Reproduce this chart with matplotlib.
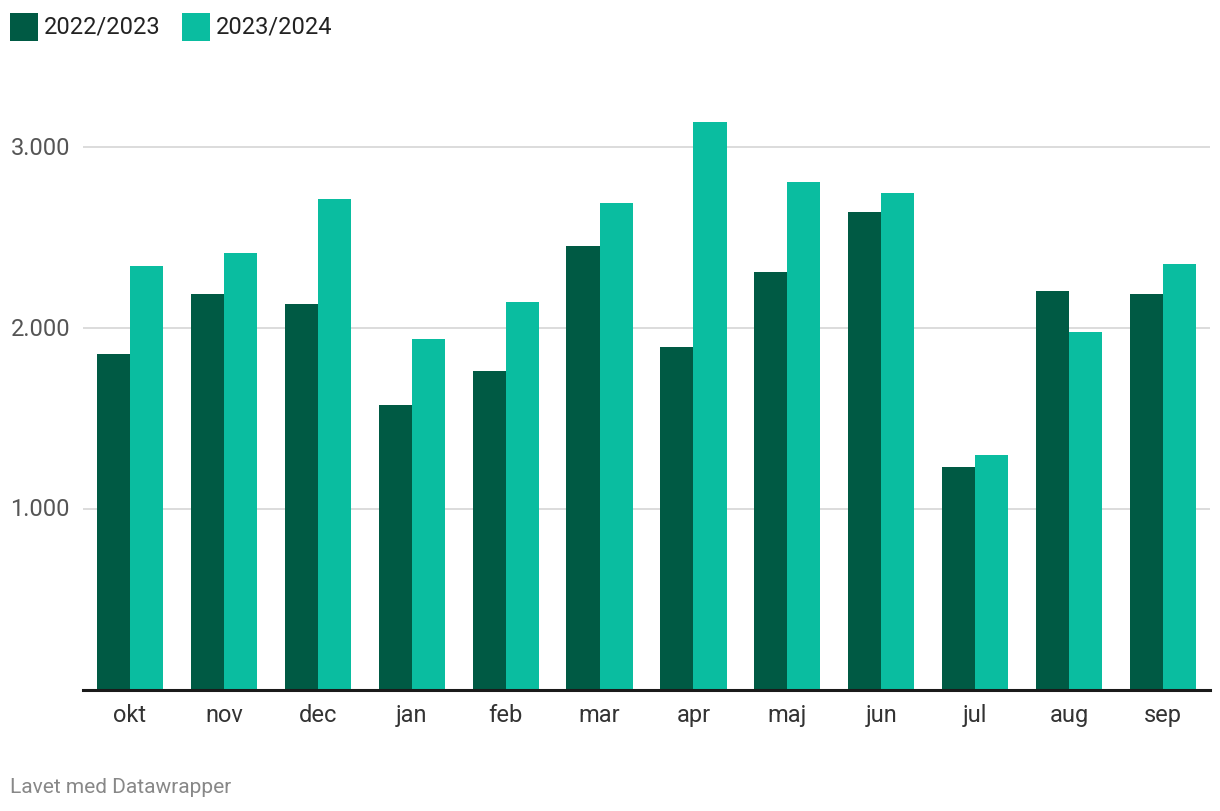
import matplotlib
matplotlib.use("Agg")
import matplotlib.pyplot as plt
import matplotlib.transforms as mtrans
import numpy as np
from matplotlib.patches import Rectangle

months = ["okt", "nov", "dec", "jan", "feb", "mar", "apr", "maj", "jun", "jul", "aug", "sep"]
s2022 = [1859, 2191, 2136, 1572, 1760, 2457, 1898, 2313, 2645, 1229, 2208, 2191]
s2023 = [2341, 2418, 2712, 1942, 2142, 2695, 3138, 2806, 2745, 1295, 1976, 2352]
series_names = ["2022/2023", "2023/2024"]
yticks = [1000, 2000, 3000]
ytick_labels = ["1.000", "2.000", "3.000"]

dark = "#005a44"
light = "#0abda0"

plt.rcParams['font.family'] = ['Roboto', 'DejaVu Sans']

W, H = 1220, 812
fig = plt.figure(figsize=(W/100, H/100), dpi=100)
ax_left, ax_right = 83, 1210
ax_top, ax_bot = 111.5, 690.5
ax = fig.add_axes([ax_left/W, 1-ax_bot/H, (ax_right-ax_left)/W, (ax_bot-ax_top)/H])

x = np.arange(len(months))
w = 0.352
ax.bar(x - w/2, s2022, width=w, color=dark, zorder=3)
ax.bar(x + w/2, s2023, width=w, color=light, zorder=3)

ax.set_xlim(-0.5, len(months) - 0.5)
ymax = (ax_bot - ax_top) / 180.7 * 1000
ax.set_ylim(0, ymax)

for yt in yticks:
    ax.axhline(yt, color="#d9d9d9", lw=1.3, zorder=1)
ax.axhline(0, color="#1a1a1a", lw=2.2, zorder=4, clip_on=False)

for sp in ax.spines.values():
    sp.set_visible(False)
ax.set_yticks([])
ax.set_xticks(x)
ax.set_xticklabels(months, fontsize=17, color="#333333")
ax.tick_params(axis='x', length=0, pad=10)

trans = mtrans.blended_transform_factory(fig.transFigure, ax.transData)
for yt, lab in zip(yticks, ytick_labels):
    ax.text(70/W, yt, lab, transform=trans, ha='right', va='center',
            fontsize=17, color="#555555")

# legend
def legend_item(px, name, color):
    fig.patches.append(Rectangle((px/W, 1-42/H), 28/W, 28/H, transform=fig.transFigure,
                                 facecolor=color, edgecolor='none'))
    fig.text((px+34)/W, 1-27/H, name, ha='left', va='center', fontsize=17, color="#222222")

legend_item(10, series_names[0], dark)
legend_item(182, series_names[1], light)

fig.text(10/W, 1-788/H, "Lavet med Datawrapper", ha='left', va='center', fontsize=15, color="#888888")

fig.savefig("out.png", dpi=100, facecolor="white")
